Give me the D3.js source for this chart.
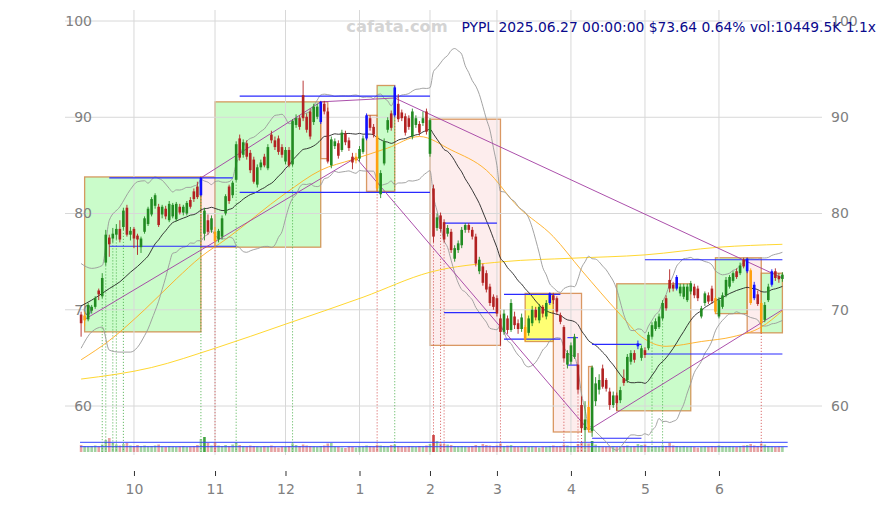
<!DOCTYPE html>
<html><head><meta charset="utf-8">
<script src="https://cdn.jsdelivr.net/npm/d3@7"></script>
<style>body{margin:0;background:#fff}svg{display:block;font-family:"DejaVu Sans",sans-serif}</style>
</head><body>
<svg id="c" width="886" height="505"></svg>
<script>
// ---------- data ----------
const monthIdx = [15, 38, 58, 79, 99, 118, 139, 160, 181];
const monthLabels = ["10", "11", "12", "1", "2", "3", "4", "5", "6"];
const yTicks = [60, 70, 80, 90, 100];

const open = [69.5,68.9,69.0,69.9,70.3,72.0,71.4,74.9,77.5,77.4,77.8,78.4,78.6,80.6,77.8,
78.4,77.7,76.5,78.1,78.9,79.9,80.8,80.7,79.9,80.5,79.3,79.7,79.4,80.7,80.1,80.0,81.4,82.3,82.8,81.9,77.9,79.3,78.3,
78.1,77.3,77.6,80.0,82.8,81.9,83.5,87.8,86.1,87.3,86.3,85.6,83.0,84.8,85.9,84.7,88.2,87.6,87.8,86.9,
85.4,86.6,85.1,89.2,89.9,92.3,90.05,90.6,89.5,90.05,89.5,91.4,90.6,85.0,87.0,87.3,86.6,88.3,87.6,85.9,85.5,
85.7,86.4,87.8,89.9,89.0,88.0,82.0,85.2,88.7,90.4,90.2,91.4,90.5,90.1,89.9,88.0,89.2,89.3,89.4,90.6,
86.2,82.6,78.5,79.8,79.1,77.9,78.1,75.3,76.2,76.7,78.3,78.8,78.3,77.6,74.0,74.5,73.8,72.4,71.35,
71.2,69.1,67.7,69.1,67.9,69.3,68.6,68.0,68.2,67.6,68.6,70.0,68.9,70.3,69.3,70.7,71.5,71.2,69.45,68.2,64.3,
64.6,65.1,64.3,60.1,57.5,59.9,57.4,60.5,61.7,63.9,62.7,61.5,60.1,61.1,60.6,62.9,62.7,64.6,65.5,66.2,65.0,
65.8,66.0,67.2,68.0,68.2,69.1,71.2,73.1,72.6,72.2,71.7,71.35,71.0,71.9,72.4,72.2,69.3,70.7,71.5,72.2,71.2,
69.3,70.3,71.5,72.4,73.0,74.0,73.8,75.2,74.0,74.1,72.6,71.6,70.7,68.95,71.0,72.6,74.0,73.5,73.2];
const high = [69.8,69.8,70.7,70.5,71.4,72.2,73.8,78.3,77.8,78.5,78.9,79.3,80.6,80.9,78.6,
78.6,77.9,77.6,79.7,80.7,81.7,82.1,81.0,80.9,80.8,81.3,81.1,81.2,81.0,80.9,81.3,81.7,82.6,83.3,83.8,80.6,79.9,79.8,
78.6,78.4,79.8,82.0,83.0,83.4,87.5,88.2,87.7,87.6,86.6,85.9,85.1,85.6,86.2,87.2,88.6,88.0,88.1,87.2,
86.9,86.9,89.8,90.3,90.2,93.8,90.4,90.9,91.4,91.4,91.7,91.7,91.0,88.0,87.8,87.6,88.7,88.6,87.9,86.3,86.3,
87.0,88.1,90.4,90.2,89.3,88.2,84.5,87.8,90.0,90.7,93.3,92.4,90.8,90.4,90.2,90.9,90.2,89.6,90.6,90.9,
89.9,83.0,80.0,80.1,79.4,78.8,78.4,76.7,77.2,78.6,79.0,79.0,78.6,77.9,75.5,74.8,74.1,72.7,71.6,
71.5,69.5,70.0,69.4,71.1,69.8,69.0,69.6,68.4,69.4,70.4,70.3,70.6,70.5,71.0,71.8,71.7,71.4,69.7,68.4,65.8,
66.6,67.5,65.5,61.0,60.5,60.5,64.2,63.0,63.3,64.3,62.9,61.9,61.5,61.4,62.0,63.8,65.4,65.8,65.8,66.8,66.3,
66.1,67.7,68.7,69.1,69.6,71.0,71.5,74.2,72.9,73.6,72.7,72.7,72.7,73.0,72.7,72.5,70.4,71.9,71.8,72.5,71.4,
71.3,71.8,73.4,73.6,74.0,74.3,74.9,75.4,75.4,74.3,72.9,72.0,71.0,70.8,72.7,74.2,74.3,73.8,73.9];
const low = [67.2,68.3,68.8,69.6,70.1,71.0,71.2,74.6,75.5,77.0,77.3,77.0,78.3,77.6,77.2,
76.4,75.7,75.9,77.9,78.7,79.7,80.5,78.6,79.5,79.4,79.1,79.5,79.2,79.9,79.8,79.8,80.5,81.2,81.5,81.8,77.2,77.8,78.0,
76.5,77.0,77.3,79.8,81.0,81.6,83.3,85.5,85.8,85.6,84.2,83.1,82.7,84.5,84.8,84.5,87.3,86.6,86.1,85.8,
85.1,84.8,84.9,88.9,88.7,89.6,88.4,87.7,89.2,89.8,89.3,90.3,85.2,84.7,86.7,85.7,86.4,87.1,86.5,84.6,85.2,
85.4,86.2,87.6,88.6,87.9,82.3,81.6,85.0,88.4,88.6,90.0,89.5,89.6,88.1,88.7,87.7,88.9,88.1,89.1,88.2,
85.9,77.0,78.2,78.1,77.0,77.6,75.9,75.0,75.9,76.4,78.0,78.0,77.3,74.5,73.7,72.5,71.8,70.4,70.0,
69.3,66.3,67.4,67.5,67.7,68.0,67.5,67.7,66.7,67.3,68.3,68.9,68.6,69.2,69.0,70.5,70.6,69.5,68.5,64.6,63.9,
64.3,64.9,61.3,57.3,56.3,57.3,56.8,60.0,61.2,61.8,61.5,59.6,59.8,59.5,60.3,62.1,62.4,64.3,64.5,65.9,64.7,
65.0,65.8,67.0,67.8,68.0,68.9,69.9,71.8,71.9,72.0,71.4,71.1,70.8,71.6,71.2,70.9,69.1,70.4,70.6,70.6,69.6,
69.1,70.1,71.3,72.2,72.8,73.2,73.6,74.3,73.8,70.5,71.0,70.4,67.6,68.7,70.8,72.4,73.0,72.8,72.9];
const close = [68.6,69.4,70.5,70.3,71.2,71.6,73.3,77.8,76.8,77.9,78.4,77.3,80.3,77.8,78.2,
77.4,77.3,77.4,79.5,80.5,81.5,81.9,78.8,80.7,79.7,81.0,80.9,81.0,80.1,80.7,81.1,80.7,81.5,81.7,83.7,80.3,78.1,79.5,
77.1,78.2,79.5,81.8,81.3,83.2,87.2,85.8,87.4,85.9,84.5,83.3,84.8,85.3,85.0,86.9,87.6,86.9,86.4,86.1,
86.6,85.0,89.6,89.9,89.0,89.9,88.7,88.0,91.1,91.1,91.6,90.6,85.4,87.7,87.5,86.0,88.4,87.4,86.8,85.3,85.9,
86.7,87.8,90.2,88.9,88.2,82.6,84.2,87.5,89.7,88.9,93.1,89.8,89.9,88.4,89.0,90.6,89.9,88.4,89.9,88.5,
89.7,77.6,79.6,78.4,77.3,78.5,76.2,76.4,76.9,78.3,78.8,78.3,77.6,74.8,75.2,72.8,72.1,70.7,70.3,
69.6,67.7,69.6,67.9,70.7,68.4,68.0,69.2,66.9,69.1,70.0,69.2,70.3,69.6,70.7,71.7,71.0,69.8,68.75,64.95,65.5,
66.3,67.2,61.7,57.7,58.6,57.5,64.0,62.35,62.7,62.0,61.8,60.1,61.1,60.3,61.65,62.4,65.1,65.5,64.8,66.5,66.0,
65.3,67.4,68.4,68.8,69.3,70.7,70.15,72.2,72.2,73.4,72.4,72.4,72.4,72.75,71.5,71.2,70.15,71.7,70.85,70.9,69.8,
71.0,71.5,73.1,73.4,73.8,73.4,74.6,74.5,75.3,70.7,71.2,70.6,68.6,70.5,72.4,74.0,73.3,73.17,73.64];
const volume = [14,12,11,12,13,11,15,24,28,18,15,13,16,18,13,
12,14,12,13,11,12,13,15,11,10,12,11,10,11,12,10,11,12,14,26,30,18,13,
18,13,12,14,12,15,19,14,12,11,13,12,11,10,12,11,13,10,9,11,
10,12,17,14,12,15,13,12,11,10,12,13,17,18,11,10,9,8,11,10,9,
10,11,13,12,11,14,13,12,11,14,15,12,11,10,12,11,10,12,11,13,
16,34,22,17,16,15,14,12,11,12,11,10,12,14,12,16,14,13,12,
13,17,12,13,14,11,10,11,12,10,11,10,9,11,10,12,13,11,12,15,13,
11,12,16,20,18,17,22,15,12,11,10,12,11,10,11,12,13,11,12,16,14,
15,12,11,12,11,13,12,18,13,12,11,12,10,11,10,9,10,11,10,12,11,
13,12,11,12,11,10,12,13,14,16,13,12,17,15,12,11,10,11,10.45];
const volStrong = [35, 100, 145];
const volLevels = [10.6, 19.4];

const blueCandles = [34, 68, 81, 89, 133, 158, 169, 189, 191, 196];
const orangeCandles = [1, 38, 78, 84, 126, 144, 180, 190, 193];
const greenDots = [6, 7, 9, 10, 12, 34, 44, 60, 89, 162, 165];
const redDots = [38, 84, 100, 102, 103, 119, 137, 141, 142, 143, 193];

// indicator lines (head of the 20-day band, slower averages)
const maHeadIdx = [0, 3, 6, 8, 11, 14, 16, 18];
const maHead = [70.4, 71.0, 71.7, 72.2, 72.9, 73.9, 74.5, 75.2];
const bbUpHead = [74.8, 74.3, 74.6, 79.3, 80.7, 82.5, 83.3, 83.4];
const bbLoHead = [66.0, 67.7, 68.2, 65.8, 65.6, 65.6, 66.1, 67.3];
const orangeIdx = [0, 8, 18, 27, 34, 41, 58, 68, 77, 87, 96, 105, 115, 124, 134, 142, 153, 159, 166, 176, 185, 193, 199];
const orangeVal = [64.8, 66.8, 70.0, 73.2, 75.5, 77.3, 82.1, 84.5, 85.6, 86.8, 88.0, 86.6, 84.5, 80.7, 77.6, 74.1, 69.5, 67.2, 66.2, 66.7, 67.2, 68.2, 69.9];
const yellowIdx = [0, 20, 38, 58, 80, 99, 120, 139, 160, 181, 199];
const yellowVal = [62.8, 64.0, 66.0, 68.5, 71.3, 73.9, 75.0, 75.35, 75.7, 76.5, 76.8];

// range boxes
const boxStart = [1, 34, 38, 68, 81, 84, 99, 126, 134, 144, 152, 180, 189, 193];
const boxEnd   = [34, 38, 68, 70, 84, 89, 119, 134, 142, 145, 173, 189, 193, 199];
const boxTop   = [83.8, 83.8, 91.6, 91.6, 90.2, 93.3, 89.8, 71.7, 71.7, 64.1, 72.7, 75.4, 75.4, 73.8];
const boxBot   = [67.7, 76.5, 76.5, 85.7, 82.3, 82.3, 66.3, 66.7, 57.3, 57.3, 59.5, 69.6, 67.6, 67.6];
const boxKind  = ["up","down","up","down","down","up","down","flat","down","down","up","up","down","up"];

// support / resistance segments
const levStart = [8, 8, 45, 45, 103, 103, 120, 120, 138, 138, 145, 145, 160, 160];
const levEnd   = [43, 44, 99, 99, 118, 118, 136, 136, 141, 141, 159, 159, 199, 199];
const levValue = [83.7, 76.6, 92.2, 82.2, 79.0, 69.7, 71.6, 66.95, 67.1, 64.25, 66.4, 56.65, 65.4, 75.2];

// trend lines through pivots
const trendLowIdx = [1, 78, 144, 199];
const trendLowVal = [69.0, 85.8, 57.5, 70.0];
const trendHighIdx = [34, 68, 89, 199];
const trendHighVal = [83.7, 91.6, 92.0, 73.3];

const titleText = "PYPL 2025.06.27 00:00:00 $73.64 0.64% vol:10449.5K 1.1x";

// ---------- drawing ----------
const svg = d3.select("#c");
const x = d3.scaleLinear().domain([0, 199]).range([81.1, 782.4]);
const y = d3.scaleLinear().domain([60, 100]).range([406, 21]);
const yv = d3.scaleLinear().domain([0, 30]).range([452, 437]);
const gridL = 65, gridR = 822, gridT = 10, gridB = 455;

svg.append("rect").attr("width", 886).attr("height", 505).attr("fill", "#fff");

// boxes
const boxFill = {up: "rgba(150,250,150,0.5)", down: "rgba(250,215,215,0.45)", flat: "rgba(255,255,80,0.8)"};
svg.append("g").selectAll("rect").data(boxStart.map((s, k) => k)).join("rect")
  .attr("x", k => x(boxStart[k])).attr("width", k => x(boxEnd[k]) - x(boxStart[k]))
  .attr("y", k => y(boxTop[k])).attr("height", k => y(boxBot[k]) - y(boxTop[k]))
  .attr("fill", k => boxFill[boxKind[k]])
  .attr("stroke", "rgba(205,120,50,0.75)").attr("stroke-width", 1.3);

// grid
svg.append("g").selectAll("line").data(yTicks).join("line")
  .attr("x1", gridL).attr("x2", gridR).attr("y1", d => y(d)).attr("y2", d => y(d))
  .attr("stroke", "#d8d8d8").attr("stroke-width", 1);
svg.append("g").selectAll("line").data(monthIdx).join("line")
  .attr("x1", d => x(d)).attr("x2", d => x(d)).attr("y1", gridT).attr("y2", gridB)
  .attr("stroke", "#d8d8d8").attr("stroke-width", 1);

// axes
const xAxis = d3.axisBottom(x).tickValues(monthIdx).tickFormat((d, k) => monthLabels[k])
  .tickSize(5).tickPadding(8);
const gx = svg.append("g").attr("transform", "translate(0,471)").call(xAxis);
gx.select(".domain").remove();
gx.selectAll("line").attr("stroke", "#333");
gx.selectAll("text").attr("fill", "#808080").attr("font-size", 14).attr("font-family", "DejaVu Sans");
const gyl = svg.append("g").attr("transform", "translate(92,0)")
  .call(d3.axisLeft(y).tickValues(yTicks).tickSize(0).tickPadding(0));
const gyr = svg.append("g").attr("transform", "translate(831,0)")
  .call(d3.axisRight(y).tickValues(yTicks).tickSize(0).tickPadding(0));
[gyl, gyr].forEach(g => {
  g.select(".domain").remove();
  g.selectAll("text").attr("fill", "#808080").attr("font-size", 14).attr("font-family", "DejaVu Sans");
});

// volume
const isUp = i => close[i] >= open[i];
svg.append("g").selectAll("rect").data(d3.range(close.length)).join("rect")
  .attr("x", i => x(i) - 1.3).attr("width", 2.6)
  .attr("y", i => yv(volume[i])).attr("height", i => yv(0) - yv(volume[i]))
  .attr("fill", i => isUp(i) ? "#2e9b2e" : "#c83030")
  .attr("opacity", i => volStrong.includes(i) ? 0.9 : 0.45);
svg.append("g").selectAll("line").data(volLevels).join("line")
  .attr("x1", x(-0.3)).attr("x2", x(200.5)).attr("y1", d => yv(d)).attr("y2", d => yv(d))
  .attr("stroke", "#3344ff").attr("stroke-width", 1);

// dotted markers
const dots = greenDots.map(i => [i, "#3aa83a"]).concat(redDots.map(i => [i, "#d04040"]));
svg.append("g").selectAll("line").data(dots).join("line")
  .attr("x1", d => x(d[0])).attr("x2", d => x(d[0]))
  .attr("y1", d => y(low[d[0]])).attr("y2", yv(0))
  .attr("stroke", d => d[1]).attr("stroke-width", 0.9).attr("stroke-dasharray", "1,2");

// indicator lines
const ma = [], up = [], lo = [];
maHeadIdx.forEach((d, k) => { ma.push([d, maHead[k]]); up.push([d, bbUpHead[k]]); lo.push([d, bbLoHead[k]]); });
for (let i = 19; i < close.length; i++) {
  const w = close.slice(i - 19, i + 1);
  const m = d3.mean(w);
  const s = Math.sqrt(d3.mean(w, v => (v - m) * (v - m)));
  ma.push([i, m]); up.push([i, m + 2 * s]); lo.push([i, m - 2 * s]);
}
const line = d3.line().x(d => x(d[0])).y(d => y(d[1])).curve(d3.curveMonotoneX);
const drawLine = (pts, color, w) => svg.append("path").attr("d", line(pts))
  .attr("fill", "none").attr("stroke", color).attr("stroke-width", w);
drawLine(yellowIdx.map((d, k) => [d, yellowVal[k]]), "#ffd21a", 0.9);
drawLine(orangeIdx.map((d, k) => [d, orangeVal[k]]), "#ffad1f", 0.9);
drawLine(up, "#999", 0.9);
drawLine(lo, "#999", 0.9);
drawLine(ma, "#222", 0.9);

// support / resistance
svg.append("g").selectAll("line").data(levStart.map((s, k) => k)).join("line")
  .attr("x1", k => x(levStart[k])).attr("x2", k => x(levEnd[k]))
  .attr("y1", k => y(levValue[k])).attr("y2", k => y(levValue[k]))
  .attr("stroke", "#2a2aff").attr("stroke-width", 1.1);

// trend lines
const tline = d3.line().x(d => x(d[0])).y(d => y(d[1]));
[[trendLowIdx, trendLowVal], [trendHighIdx, trendHighVal]].forEach(([ix, vv]) => {
  svg.append("path").attr("d", tline(ix.map((d, k) => [d, vv[k]])))
    .attr("fill", "none").attr("stroke", "#a23ca2").attr("stroke-width", 0.9);
});

// candles
const colorOf = i => blueCandles.includes(i) ? "#1010ff" : orangeCandles.includes(i) ? "#ffa010"
  : (isUp(i) ? "#228b22" : "#b22222");
const cg = svg.append("g");
cg.selectAll("line").data(d3.range(close.length)).join("line")
  .attr("x1", i => x(i)).attr("x2", i => x(i))
  .attr("y1", i => y(high[i])).attr("y2", i => y(low[i]))
  .attr("stroke", colorOf).attr("stroke-width", 0.9);
cg.selectAll("rect").data(d3.range(close.length)).join("rect")
  .attr("x", i => x(i) - 1.3).attr("width", 2.6)
  .attr("y", i => y(Math.max(open[i], close[i])))
  .attr("height", i => Math.max(0.8, Math.abs(y(open[i]) - y(close[i]))))
  .attr("fill", colorOf);

// texts
svg.append("text").attr("x", 397).attr("y", 32).attr("text-anchor", "middle")
  .attr("font-size", 16.3).attr("font-weight", "bold").attr("fill", "#d4d4d4").text("cafata.com");
svg.append("text").attr("x", 876).attr("y", 31.5).attr("text-anchor", "end")
  .attr("font-size", 13.85).attr("fill", "#0a0a8c").text(titleText);
</script>
</body></html>
